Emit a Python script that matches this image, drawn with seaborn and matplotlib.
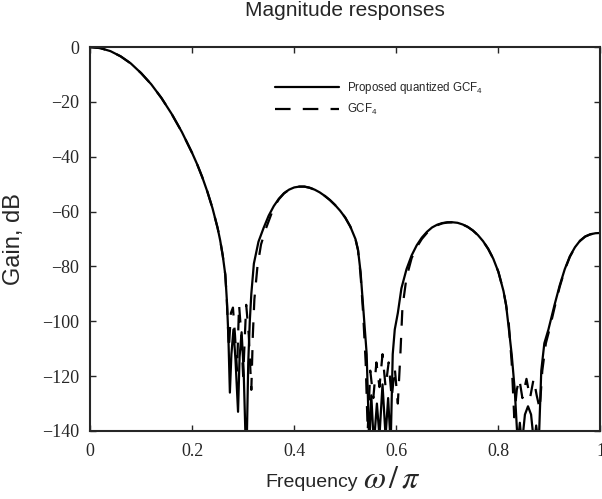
import matplotlib
matplotlib.use("Agg")
import matplotlib.pyplot as plt
import seaborn as sns
import pandas as pd

# ---- data (normalized frequency, gain in dB) ----
freq_quant = [0.00, 0.02, 0.04, 0.06, 0.08, 0.10, 0.12, 0.14, 0.16, 0.18, 0.20, 0.21, 0.22, 0.23,
              0.24, 0.25, 0.255, 0.26, 0.265,
              0.268, 0.271, 0.274, 0.277, 0.281, 0.285, 0.290, 0.293, 0.297, 0.301, 0.305,
              0.307, 0.310, 0.313, 0.316, 0.321, 0.33, 0.34, 0.35, 0.36, 0.37, 0.38, 0.39, 0.40,
              0.41, 0.42, 0.43, 0.44, 0.45, 0.46, 0.47, 0.48, 0.49, 0.50, 0.51, 0.52, 0.525,
              0.53, 0.536, 0.542, 0.547,
              0.551, 0.556, 0.562, 0.567, 0.573, 0.579, 0.584, 0.589,
              0.593, 0.597, 0.603, 0.61, 0.62, 0.63, 0.64, 0.65, 0.66, 0.67, 0.68, 0.69, 0.70,
              0.71, 0.72, 0.73, 0.74, 0.75, 0.76, 0.77, 0.78, 0.79, 0.80, 0.81, 0.815, 0.82,
              0.826, 0.832, 0.838, 0.842, 0.846, 0.852, 0.858, 0.864, 0.870, 0.874, 0.879,
              0.884, 0.890, 0.898, 0.91, 0.92, 0.93, 0.94, 0.95, 0.96, 0.97, 0.98, 0.99, 1.00]
gain_quant = [0.0, -0.4, -1.5, -3.4, -6.0, -9.5, -13.6, -18.6, -24.4, -31.0, -38.6, -42.8, -47.5, -52.8,
              -58.8, -66.0, -70.5, -76.0, -83.0,
              -92, -105, -126, -112, -103, -114, -133, -113, -104, -118, -145,
              -145, -115, -100, -90, -79, -71, -66, -61.5, -58, -55.3, -53.3, -52, -51.2,
              -50.9, -50.9, -51.3, -52, -53, -54.3, -55.8, -57.6, -59.7, -62.2, -65.5, -70, -74,
              -82, -97, -112, -145,
              -127, -145, -130, -142, -123, -142, -128, -145,
              -112, -103, -97, -88, -81, -76, -72.3, -69.5, -67.4, -65.8, -64.8, -64.2, -63.9,
              -63.9, -64.1, -64.7, -65.6, -66.9, -68.6, -70.8, -73.6, -77.2, -82, -89, -94, -102,
              -112, -125, -145, -137, -145, -134, -131, -134, -145, -138, -145,
              -118, -108, -103, -94, -87, -81, -76.3, -73, -70.6, -69.1, -68.3, -67.9, -67.8]

freq_gcf = [0.00, 0.02, 0.04, 0.06, 0.08, 0.10, 0.12, 0.14, 0.16, 0.18, 0.20, 0.21, 0.22, 0.23,
            0.24, 0.25, 0.255, 0.26, 0.265,
            0.268, 0.272, 0.276, 0.280, 0.284, 0.288, 0.292, 0.296, 0.300, 0.306, 0.311, 0.316,
            0.319, 0.322, 0.328, 0.335, 0.345, 0.36, 0.37, 0.38, 0.39, 0.40,
            0.41, 0.42, 0.43, 0.44, 0.45, 0.46, 0.47, 0.48, 0.49, 0.50, 0.51, 0.52, 0.525,
            0.53, 0.535, 0.540, 0.544,
            0.549, 0.555, 0.561, 0.567, 0.573, 0.579, 0.585, 0.591, 0.597, 0.603,
            0.608, 0.612, 0.62, 0.63, 0.64, 0.65, 0.66, 0.67, 0.68, 0.69, 0.70,
            0.71, 0.72, 0.73, 0.74, 0.75, 0.76, 0.77, 0.78, 0.79, 0.80, 0.81, 0.815, 0.82,
            0.826, 0.831, 0.836, 0.841, 0.847, 0.855, 0.862, 0.869, 0.875, 0.881,
            0.886, 0.893, 0.900, 0.91, 0.92, 0.93, 0.94, 0.95, 0.96, 0.97, 0.98, 0.99, 1.00]
gain_gcf = [0.0, -0.4, -1.5, -3.4, -6.0, -9.5, -13.6, -18.6, -24.4, -31.0, -38.6, -42.8, -47.5, -52.8,
            -58.8, -66.0, -70.5, -76.0, -83.0,
            -92, -110, -97, -95, -105, -118, -94, -104, -120, -94, -105, -125,
            -105, -92, -80, -72, -66, -58.5, -55.5, -53.4, -52, -51.2,
            -50.9, -50.9, -51.3, -52, -53, -54.3, -55.8, -57.6, -59.7, -62.2, -65.5, -70, -74,
            -83, -97, -115, -140,
            -118, -128, -115, -124, -112, -124, -115, -128, -117, -130,
            -112, -95, -84, -77, -73, -70, -67.8, -66.1, -65, -64.3, -64,
            -63.9, -64.1, -64.7, -65.6, -66.9, -68.6, -70.8, -73.6, -77.2, -82, -89, -94, -100,
            -115, -135, -125, -121, -128, -121, -128, -121, -127, -132,
            -118, -108, -103, -95, -87.5, -81.3, -76.5, -73.1, -70.7, -69.1, -68.3, -67.9, -67.8]

series_labels = ["Proposed quantized GCF$_4$", "GCF$_4$"]
x_ticks = [0, 0.2, 0.4, 0.6, 0.8, 1]
x_tick_labels = ["0", "0.2", "0.4", "0.6", "0.8", "1"]
y_ticks = [0, -20, -40, -60, -80, -100, -120, -140]

df = pd.concat([
    pd.DataFrame({"f": freq_quant, "g": gain_quant, "s": series_labels[0]}),
    pd.DataFrame({"f": freq_gcf, "g": gain_gcf, "s": series_labels[1]}),
], ignore_index=True)

sns.set_style("ticks")
plt.rcParams["font.family"] = ["Liberation Sans", "DejaVu Sans"]
plt.rcParams["mathtext.fontset"] = "custom"
plt.rcParams["mathtext.rm"] = "Liberation Sans"
plt.rcParams["mathtext.it"] = "Liberation Sans:italic"

fig = plt.figure(figsize=(6.02, 4.99), dpi=100)
ax = fig.add_axes([0.1495, 0.1363, 0.848, 0.7695])

sns.lineplot(data=df, x="f", y="g", hue="s", style="s",
             palette=["black", "black"], dashes=[(), (7, 5.5)],
             linewidth=1.6, sort=False, estimator=None, ax=ax)

ax.set_xlim(0, 1)
ax.set_ylim(-140, 0)
ax.set_xticks(x_ticks)
ax.set_xticklabels(x_tick_labels)
ax.set_yticks(y_ticks)
ax.set_yticklabels([("\u2212" + str(-v)) if v < 0 else str(v) for v in y_ticks])
for lbl in ax.get_xticklabels() + ax.get_yticklabels():
    lbl.set_fontfamily("Liberation Serif")
    lbl.set_fontsize(13)
ax.tick_params(direction="in", length=4, width=1, top=True, right=True)
ax.tick_params(axis="y", pad=8)
ax.tick_params(axis="x", pad=9)
for sp in ax.spines.values():
    sp.set_linewidth(1.5)
    sp.set_visible(True)

ax.set_xlabel("")
ax.set_ylabel("Gain, dB", fontsize=17)
ax.yaxis.set_label_coords(-0.127, 0.5)
fig.text(358 / 602, 1 - 487 / 499, "Frequency", fontsize=14, ha="right", va="baseline")
fig.text(363 / 602, 1 - 487 / 499, "$\\omega\\,/\\,\\pi$", fontsize=23, ha="left", va="baseline",
         math_fontfamily="stix")
ax.set_title("Magnitude responses", fontsize=15, pad=22)

leg = ax.legend(loc="upper left", bbox_to_anchor=(0.363, 0.913), frameon=False,
                fontsize=8.3, handlelength=5.5, handletextpad=0.75, labelspacing=0.5,
                borderaxespad=0, borderpad=0)

fig.savefig("out.png", dpi=100)
